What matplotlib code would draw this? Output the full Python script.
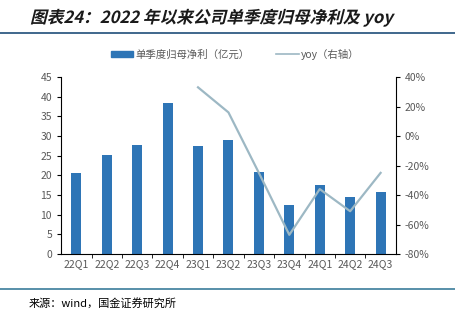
import matplotlib
matplotlib.use("Agg")
import matplotlib.pyplot as plt
from matplotlib.patches import Patch, PathPatch
from matplotlib.lines import Line2D
from matplotlib.ticker import FuncFormatter
from matplotlib.textpath import TextPath
from matplotlib.font_manager import FontProperties
from matplotlib.transforms import Affine2D, IdentityTransform

plt.rcParams['font.family'] = ['Noto Sans CJK SC', 'DejaVu Sans']

quarters = ["22Q1", "22Q2", "22Q3", "22Q4", "23Q1", "23Q2", "23Q3",
            "23Q4", "24Q1", "24Q2", "24Q3"]
profit = [20.7, 25.2, 27.7, 38.3, 27.4, 29.1, 20.9, 12.5, 17.5, 14.4, 15.7]
yoy_quarters = quarters[4:]
yoy = [33, 16, -25, -67, -36, -51, -25]
title = "图表24：2022 年以来公司单季度归母净利及 yoy"
source = "来源：wind，国金证券研究所"

bar_color = "#2E75B6"
line_color = "#9DB8C4"
grey = "#595959"

fig = plt.figure(figsize=(4.56, 3.23), dpi=100)
ax = fig.add_axes([0.134, 0.2136, 0.734, 0.548])

x = list(range(len(quarters)))
ax.bar(x, profit, width=0.33, color=bar_color, zorder=2)
ax.set_xlim(-0.5, len(quarters) - 0.5)
ax.set_ylim(0, 45)
ax.set_yticks(range(0, 46, 5))
ax.set_xticks(x)
ax.set_xticklabels(quarters)
ax.set_xticks([i + 0.5 for i in x[:-1]], minor=True)
ax.tick_params(axis='x', which='major', length=0, labelsize=7.5,
               labelcolor=grey, pad=4)
ax.tick_params(axis='x', which='minor', length=3, direction='out')
ax.tick_params(axis='y', labelsize=7.5, labelcolor=grey, length=3)
for s in ['top', 'right']:
    ax.spines[s].set_visible(False)

ax2 = ax.twinx()
xi = [quarters.index(q) for q in yoy_quarters]
ax2.plot(xi, yoy, color=line_color, lw=1.6, zorder=3)
ax2.set_ylim(-80, 40)
ax2.set_yticks(range(-80, 41, 20))
ax2.yaxis.set_major_formatter(FuncFormatter(lambda v, p: f"{int(v)}%"))
ax2.tick_params(axis='y', labelsize=7.5, labelcolor=grey, length=3)
for s in ['top', 'left', 'bottom']:
    ax2.spines[s].set_visible(False)

handles = [Patch(color=bar_color), Line2D([], [], color=line_color, lw=1.2)]
fig.legend(handles, ["单季度归母净利（亿元）", "yoy（右轴）"], loc='center',
           bbox_to_anchor=(0.515, 0.832), ncol=2, frameon=False, fontsize=7.5,
           labelcolor=grey, handlelength=2.2, handleheight=0.5,
           columnspacing=2.5, handletextpad=0.2)

# italic title: CJK font has no italic, so skew the glyph outlines
tp = TextPath((0, 0), title, size=12,
              prop=FontProperties(family=['Noto Sans CJK SC'], weight='bold'))
tr = Affine2D().skew_deg(14, 0).scale(100 / 72).translate(30, 323 - 23)
fig.add_artist(PathPatch(tp, transform=tr + IdentityTransform(),
                         color="#1a1a1a", lw=0))

fig.add_artist(Line2D([0, 1], [0.897, 0.897], color="#1F4E79", lw=1.2))
fig.add_artist(Line2D([0, 1], [0.105, 0.105], color="#3B7D9B", lw=1.2))
fig.text(0.062, 0.062, source, fontsize=8, va='center')

fig.savefig("out.png", dpi=100)
